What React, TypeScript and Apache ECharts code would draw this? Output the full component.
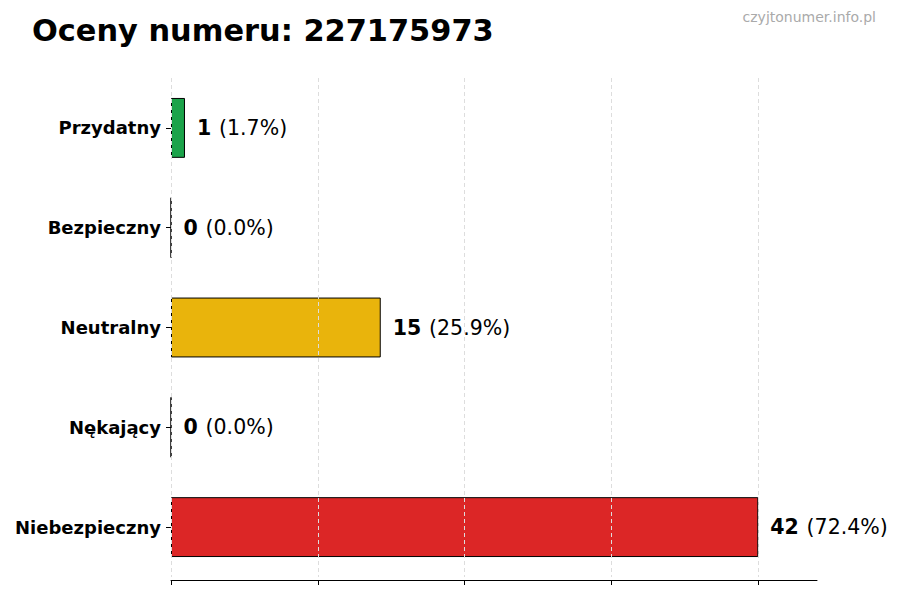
import { useEffect, useRef } from 'react';
import * as echarts from 'echarts';

const categories = ['Przydatny', 'Bezpieczny', 'Neutralny', 'Nękający', 'Niebezpieczny'];
const counts = [1, 0, 15, 0, 42];
const barColors = ['#1ba34a', '#6b7280', '#e9b40c', '#f97316', '#dc2626'];
const gridValues = [0, 10.5, 21, 31.5, 42];

export default function App() {
  const chartRef = useRef(null);

  useEffect(() => {
    document.body.style.margin = '0';
    const chart = echarts.init(chartRef.current, null, { renderer: 'svg' });
    const total = counts.reduce((a, b) => a + b, 0);
    const font = 'DejaVu Sans';

    const option = {
      animation: false,
      textStyle: { fontFamily: font },
      title: {
        text: 'Oceny numeru: 227175973',
        left: 32,
        top: 15,
        padding: 0,
        textStyle: { fontSize: 30.4, fontWeight: 'bold', color: '#000', fontFamily: font },
      },
      graphic: [
        {
          type: 'text',
          right: 24,
          top: 10,
          style: { text: 'czyjtonumer.info.pl', fontSize: 14, fill: '#aaaaaa', fontFamily: font },
        },
      ],
      grid: { left: 171, right: 83, top: 78, bottom: 23, containLabel: false },
      xAxis: {
        type: 'value',
        min: 0,
        max: 46.2,
        interval: 10.5,
        offset: 3,
        axisLine: { show: true, lineStyle: { color: '#000', width: 1 } },
        axisTick: { show: true, length: 5, customValues: gridValues, lineStyle: { color: '#000' } },
        axisLabel: { show: false },
        splitLine: { show: false },
      },
      yAxis: {
        type: 'category',
        data: categories,
        inverse: true,
        axisLine: { show: false },
        axisTick: { show: true, length: 5, alignWithLabel: true, lineStyle: { color: '#000' } },
        axisLabel: { fontSize: 18, fontWeight: 'bold', color: '#000', margin: 10, fontFamily: font },
        splitLine: { show: false },
      },
      series: [
        {
          type: 'bar',
          barCategoryGap: '40%',
          data: counts.map((v, i) => ({
            value: v,
            itemStyle: { color: barColors[i], borderColor: '#000', borderWidth: 1 },
          })),
          label: {
            show: true,
            position: 'right',
            distance: 12,
            formatter: (p: any) =>
              `{b|${p.value}} {n|(${((p.value / total) * 100).toFixed(1)}%)}`,
            rich: {
              b: { fontSize: 20.5, fontWeight: 'bold', color: '#000', fontFamily: font },
              n: { fontSize: 20.5, color: '#000', fontFamily: font, padding: [0, 0, 0, 4] },
            },
          },
          markLine: {
            silent: true,
            symbol: 'none',
            label: { show: false },
            lineStyle: { color: '#dddddd', type: [4, 3], width: 1 },
            data: gridValues.map((x) => ({ xAxis: x })),
            z: 5,
          },
        },
      ],
    };

    chart.setOption(option);
    return () => {
      chart.dispose();
    };
  }, []);

  return <div ref={chartRef} style={{ width: '900px', height: '600px' }} />;
}
